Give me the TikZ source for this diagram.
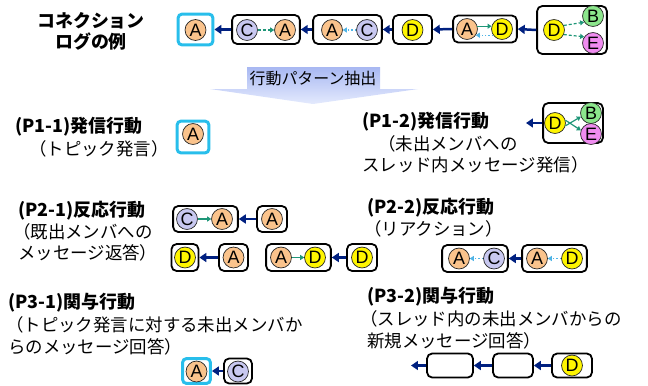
\documentclass[tikz,border=0pt]{standalone}
\usepackage{fontspec}
\setmainfont{Noto Sans CJK JP}
\newfontfamily\lf{Liberation Sans}
\usetikzlibrary{arrows.meta}
\definecolor{colA}{RGB}{250,195,140}
\definecolor{colC}{RGB}{200,200,240}
\definecolor{colD}{RGB}{255,245,0}
\definecolor{colB}{RGB}{140,230,140}
\definecolor{colE}{RGB}{240,140,240}
\definecolor{cyanc}{RGB}{40,190,235}
\definecolor{navyc}{RGB}{0,32,128}
\definecolor{tealc}{RGB}{30,150,120}
\definecolor{ltblue}{RGB}{80,180,230}
\definecolor{arrtop}{RGB}{168,184,242}
\definecolor{arrbot}{RGB}{228,234,253}
\begin{document}
\begin{tikzpicture}[x=1bp,y=-1bp,
  ttl/.style={font=\fontsize{18}{20}\selectfont\bfseries, inner sep=0},
  hd/.style={font=\fontsize{18}{20}\selectfont\bfseries, anchor=west, inner sep=0},
  bd/.style={font=\fontsize{17.5}{20}\selectfont, anchor=west, inner sep=0},
  bx/.style={draw=black, line width=1.8pt, rounded corners=5pt, inner sep=0pt},
  tp/.style={draw=cyanc, line width=3pt, rounded corners=4pt, inner sep=0pt},
  ci/.style={circle, draw=black!85, line width=0.7pt, minimum size=21pt, inner sep=0pt, font=\lf\fontsize{18}{18}\selectfont},
  cA/.style={ci, fill=colA},
  cC/.style={ci, fill=colC},
  cD/.style={ci, fill=colD},
  cB/.style={ci, fill=colB},
  cE/.style={ci, fill=colE},
  nav/.style={draw=navyc, line width=2.5pt, -{Triangle[length=7pt,width=9pt]}},
  grn/.style={draw=tealc, line width=1.2pt, -{Triangle[length=4pt,width=5pt]}},
  grnd/.style={grn, dash pattern=on 3pt off 2pt},
  dotb/.style={draw=ltblue, line width=1.4pt, dotted, -{Triangle[length=4pt,width=5pt]}}
]
\useasboundingbox (0,0) rectangle (648,385);

% ---- header ----
\node[ttl] (h1) at (91,21) {コネクション};
\node[ttl] (h2) at (91,42) {ログの例};

% ---- top row ----
\node[tp, minimum width=35pt, minimum height=31pt] (t1) at (195.5,29.5) {};
\node[cA] (t1a) at (195.5,30) {A};
\node[bx, minimum width=68pt, minimum height=29pt] (t2) at (266,29.5) {};
\node[cC] (t2c) at (247,30) {C};
\node[cA] (t2a) at (285,30) {A};
\node[bx, minimum width=69pt, minimum height=29pt] (t3) at (347.5,29.5) {};
\node[cA] (t3a) at (332,30) {A};
\node[cC] (t3c) at (367,30) {C};
\node[bx, minimum width=39pt, minimum height=29pt] (t4) at (412.5,29.5) {};
\node[cD] (t4d) at (412.5,30) {D};
\node[bx, minimum width=64pt, minimum height=27pt] (t5) at (485,29) {};
\node[cA] (t5a) at (467,29) {A};
\node[cD] (t5d) at (502,29) {D};
\node[bx, minimum width=70pt, minimum height=48pt] (t6) at (572,30) {};
\node[cD] (t6d) at (554,30) {D};
\node[cB] (t6b) at (593,16) {B};
\node[cE] (t6e) at (593,43) {E};
\draw[nav] (t2.west) -- (t1.east);
\draw[nav] (t3.west) -- (t2.east);
\draw[nav] (t4.west) -- (t3.east);
\draw[nav] (t5.west) -- (t4.east);
\draw[nav] (t6.west) -- (t5.east);
\draw[grnd] (t2c.east) -- (t2a.west);
\draw[dotb] (t3c.west) -- (t3a.east);
\draw[grn] (t5a.15) -- (t5d.165);
\draw[dotb] (t5d.215) -- (t5a.-35);
\draw[grnd] (t6d.25) -- (t6b.215);
\draw[grnd] (t6d.-25) -- (t6e.145);

% ---- extraction arrow ----
\shade[top color=arrtop, bottom color=arrbot]
  (247,67) -- (380,67) -- (380,89) -- (418,89) -- (313,104) -- (210,89) -- (247,89) -- cycle;
\node[font=\fontsize{16}{18}\selectfont, inner sep=0] (ext) at (313,78) {行動パターン抽出};

% ---- P1-1 ----
\node[hd] (p11t) at (15,127) {(P1-1)発信行動};
\node[bd] (p11s) at (29,149) {（トピック発言）};
\node[tp, minimum width=32pt, minimum height=32pt] (p11) at (193,137) {};
\node[cA] (p11a) at (193,134) {A};

% ---- P1-2 ----
\node[hd] (p12t) at (362,122) {(P1-2)発信行動};
\node[bd] (p12s) at (378,144) {（未出メンバへの};
\node[bd] (p12u) at (362,165) {スレッド内メッセージ発信）};
\node[bx, minimum width=60pt, minimum height=40pt] (p12) at (573,123) {};
\node[cD] (p12d) at (555,123) {D};
\node[cB] (p12b) at (591,113) {B};
\node[cE] (p12e) at (591,134) {E};
\coordinate (p12x) at (526,123);
\draw[nav] (p12.west) -- (p12x);
\draw[grn] (p12d.15) -- (p12e.160);
\draw[grn] (p12d.-15) -- (p12b.200);

% ---- P2-1 ----
\node[hd] (p21t) at (18,211) {(P2-1)反応行動};
\node[bd] (p21s) at (13,232) {（既出メンバへの};
\node[bd] (p21u) at (18,253) {メッセージ返答）};
\node[bx, minimum width=65pt, minimum height=26pt] (r1a) at (205.5,219) {};
\node[cC] (r1ac) at (187,219) {C};
\node[cA] (r1aa) at (222,219) {A};
\node[bx, minimum width=30pt, minimum height=26pt] (r1b) at (272,219) {};
\node[cA] (r1ba) at (272,219) {A};
\draw[nav] (r1b.west) -- (r1a.east);
\draw[grn] (r1ac.east) -- (r1aa.west);
\node[bx, minimum width=27pt, minimum height=27pt] (r2a) at (185,257.5) {};
\node[cD] (r2ad) at (185,257.5) {D};
\node[bx, minimum width=29pt, minimum height=27pt] (r2b) at (233.5,257.5) {};
\node[cA] (r2ba) at (233.5,257.5) {A};
\draw[nav] (r2b.west) -- (r2a.east);
\node[bx, minimum width=65pt, minimum height=27pt] (r2c) at (298.5,257.5) {};
\node[cA] (r2ca) at (281,257.5) {A};
\node[cD] (r2cd) at (315,257.5) {D};
\draw[grn] (r2ca.east) -- (r2cd.west);
\node[bx, minimum width=30pt, minimum height=27pt] (r2d) at (362,257.5) {};
\node[cD] (r2dd) at (362,257.5) {D};
\draw[nav] (r2d.west) -- (r2c.east);

% ---- P2-2 ----
\node[hd] (p22t) at (367,208) {(P2-2)反応行動};
\node[bd] (p22s) at (364,229) {（リアクション）};
\node[bx, minimum width=66pt, minimum height=27pt] (s1) at (475,258.5) {};
\node[cA] (s1a) at (459,258.5) {A};
\node[cC] (s1c) at (494,258.5) {C};
\draw[dotb] (s1c.west) -- (s1a.east);
\node[bx, minimum width=65pt, minimum height=27pt] (s2) at (554.5,258.5) {};
\node[cA] (s2a) at (537,258.5) {A};
\node[cD] (s2d) at (572,258.5) {D};
\draw[dotb] (s2d.west) -- (s2a.east);
\draw[nav] (s2.west) -- (s1.east);

% ---- P3-1 ----
\node[hd] (p31t) at (8,303) {(P3-1)関与行動};
\node[bd] (p31s) at (6,325) {（トピック発言に対する未出メンバか};
\node[bd] (p31u) at (8,347) {らのメッセージ回答）};
\node[tp, minimum width=28pt, minimum height=25pt] (u1) at (196.5,371) {};
\node[cA] (u1a) at (196.5,371.5) {A};
\node[bx, minimum width=28pt, minimum height=25pt] (u2) at (238,371) {};
\node[cC] (u2c) at (238,371.5) {C};
\draw[nav] (u2.west) -- (u1.east);

% ---- P3-2 ----
\node[hd] (p32t) at (367,297) {(P3-2)関与行動};
\node[bd] (p32s) at (360,319) {（スレッド内の未出メンバからの};
\node[bd] (p32u) at (367,341) {新規メッセージ回答）};
\node[bx, minimum width=46pt, minimum height=24pt] (q1) at (450,365.5) {};
\node[bx, minimum width=40pt, minimum height=24pt] (q2) at (513,365.5) {};
\node[bx, minimum width=40pt, minimum height=24pt] (q3) at (572,365.5) {};
\node[cD] (q3d) at (572,365.5) {D};
\coordinate (q0) at (411,365.5);
\draw[nav] (q3.west) -- (q2.east);
\draw[nav] (q2.west) -- (q1.east);
\draw[nav] (q1.west) -- (q0);
\end{tikzpicture}
\end{document}
